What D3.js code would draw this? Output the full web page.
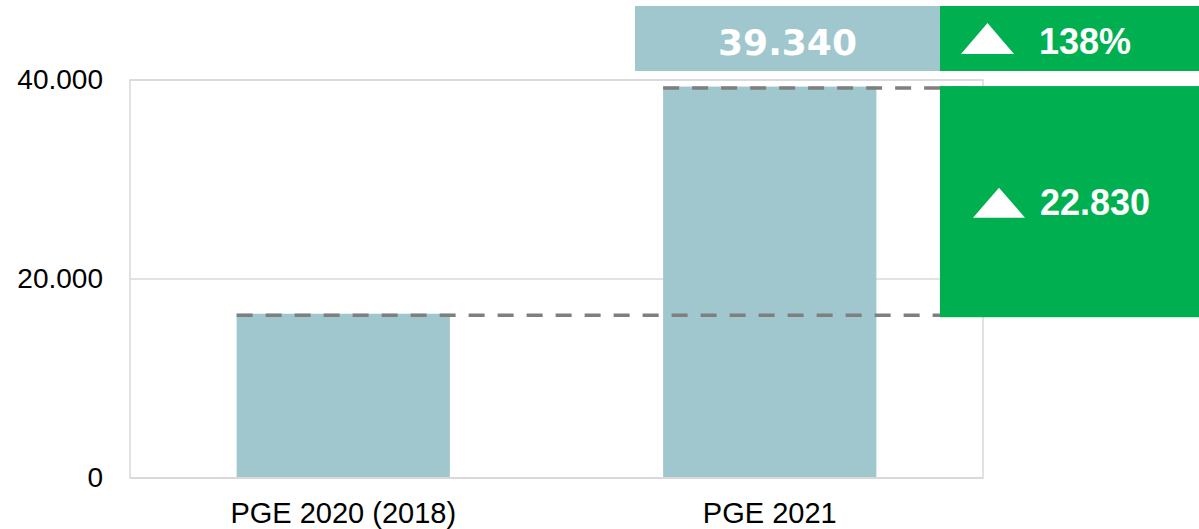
<!DOCTYPE html>
<html>
<head>
<meta charset="utf-8">
<script src="https://cdn.jsdelivr.net/npm/d3@7"></script>
<style>
  body { margin: 0; background: #fff; }
  svg { display: block; }
</style>
</head>
<body>
<div id="chart"></div>
<script>
const width = 1199;
const height = 529;

// data
const categories = ["PGE 2020 (2018)", "PGE 2021"];
const values = [16510, 39340];
const yTicks = [0, 20000, 40000];
const deltaValue = 22830;
const deltaPct = 138;

const blue = "#9fc7cd";
const green = "#00b050";

const locale = d3.formatLocale({ decimal: ",", thousands: ".", grouping: [3], currency: ["", ""] });
const fmt = locale.format(",d");

const plot = { left: 130, right: 983, top: 80, bottom: 478 };

const x = d3.scaleBand()
    .domain(categories)
    .range([plot.left, plot.right])
    .paddingInner(0.5)
    .paddingOuter(0.25);

const y = d3.scaleLinear()
    .domain([0, 40000])
    .range([plot.bottom, plot.top]);

const svg = d3.select("#chart")
  .append("svg")
    .attr("width", width)
    .attr("height", height);

// plot frame
svg.append("rect")
    .attr("x", plot.left)
    .attr("y", plot.top)
    .attr("width", plot.right - plot.left)
    .attr("height", plot.bottom - plot.top)
    .attr("fill", "none")
    .attr("stroke", "#d9d9d9")
    .attr("stroke-width", 1.5);

// gridlines
svg.append("g")
  .selectAll("line")
  .data(yTicks.filter(d => d > 0))
  .join("line")
    .attr("x1", plot.left)
    .attr("x2", plot.right)
    .attr("y1", d => y(d))
    .attr("y2", d => y(d))
    .attr("stroke", "#d9d9d9")
    .attr("stroke-width", 1.5);

// y axis labels
const yAxis = svg.append("g")
    .attr("transform", `translate(${plot.left},0)`)
    .call(d3.axisLeft(y).tickValues(yTicks).tickFormat(fmt).tickSize(0).tickPadding(27));
yAxis.select(".domain").remove();
yAxis.selectAll("text")
    .attr("font-family", "Liberation Sans, Arial, sans-serif")
    .attr("font-size", 28)
    .attr("fill", "#000");

// bars
svg.append("g")
  .selectAll("rect")
  .data(values)
  .join("rect")
    .attr("x", (d, i) => x(categories[i]))
    .attr("y", d => y(d))
    .attr("width", x.bandwidth())
    .attr("height", d => y(0) - y(d))
    .attr("fill", blue);

// bottom axis line
svg.append("line")
    .attr("x1", plot.left)
    .attr("x2", plot.right)
    .attr("y1", y(0))
    .attr("y2", y(0))
    .attr("stroke", "#d9d9d9")
    .attr("stroke-width", 2);

// x axis labels
const xAxis = svg.append("g")
    .attr("transform", `translate(0,${plot.bottom})`)
    .call(d3.axisBottom(x).tickSize(0).tickPadding(24));
xAxis.select(".domain").remove();
xAxis.selectAll("text")
    .attr("font-family", "Liberation Sans, Arial, sans-serif")
    .attr("font-size", 29)
    .attr("fill", "#000");

// dashed reference lines
const boxLeft = 940;
svg.append("line")
    .attr("x1", x(categories[0]))
    .attr("x2", boxLeft)
    .attr("y1", y(values[0]) + 1.5)
    .attr("y2", y(values[0]) + 1.5)
    .attr("stroke", "#7f7f7f")
    .attr("stroke-width", 3.5)
    .attr("stroke-dasharray", "16 13");

svg.append("line")
    .attr("x1", x(categories[1]))
    .attr("x2", 975)
    .attr("y1", y(values[1]) + 1.5)
    .attr("y2", y(values[1]) + 1.5)
    .attr("stroke", "#7f7f7f")
    .attr("stroke-width", 3.5)
    .attr("stroke-dasharray", "16 13");

// difference box
const diffTop = y(values[1]) - 0.5;
const diffBottom = y(values[0]) + 3.5;
svg.append("rect")
    .attr("x", boxLeft)
    .attr("y", diffTop)
    .attr("width", width - boxLeft)
    .attr("height", diffBottom - diffTop)
    .attr("fill", green);

function triangle(cx, base, w, h) {
  return `M${cx - w / 2},${base}L${cx + w / 2},${base}L${cx},${base - h}Z`;
}

const midDiff = (diffTop + diffBottom) / 2;
svg.append("path")
    .attr("d", triangle(999, midDiff + 16, 52, 30))
    .attr("fill", "#fff");
svg.append("text")
    .attr("x", 1040)
    .attr("y", midDiff + 13)
    .attr("font-family", "Liberation Sans, Arial, sans-serif")
    .attr("font-weight", "bold")
    .attr("font-size", 36)
    .attr("fill", "#fff")
    .text(fmt(deltaValue));

// top summary boxes
svg.append("rect")
    .attr("x", 635)
    .attr("y", 6)
    .attr("width", boxLeft - 635)
    .attr("height", 65)
    .attr("fill", blue);
svg.append("text")
    .attr("x", (635 + boxLeft) / 2)
    .attr("y", 55)
    .attr("text-anchor", "middle")
    .attr("font-family", "DejaVu Sans, sans-serif")
    .attr("font-weight", "bold")
    .attr("font-size", 36)
    .attr("fill", "#fff")
    .text(fmt(values[1]));

svg.append("rect")
    .attr("x", boxLeft)
    .attr("y", 6)
    .attr("width", width - boxLeft)
    .attr("height", 65)
    .attr("fill", green);
svg.append("path")
    .attr("d", triangle(987.5, 54, 53, 31))
    .attr("fill", "#fff");
svg.append("text")
    .attr("x", 1039)
    .attr("y", 54)
    .attr("font-family", "Liberation Sans, Arial, sans-serif")
    .attr("font-weight", "bold")
    .attr("font-size", 36)
    .attr("fill", "#fff")
    .text(deltaPct + "%");
</script>
</body>
</html>
